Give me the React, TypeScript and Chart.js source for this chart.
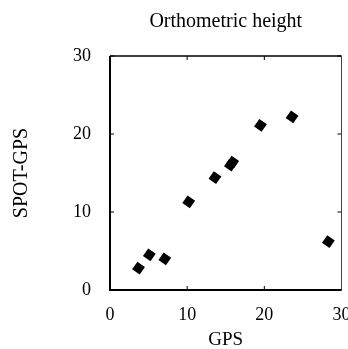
import React, { useEffect, useRef } from "react";
import { Chart, registerables } from "chart.js";

Chart.register(...registerables);

const gpsValues = [3.7, 5.1, 7.1, 10.2, 13.6, 15.6, 15.9, 19.5, 23.6, 28.3];
const spotGpsValues = [2.8, 4.5, 4.0, 11.3, 14.4, 16.0, 16.4, 21.1, 22.2, 6.2];
const tickValues = [0, 10, 20, 30];
const titleText = "Orthometric height";
const xTitle = "GPS";
const yTitle = "SPOT-GPS";

const SERIF = "'Liberation Serif', 'Times New Roman', serif";

const titlePlugin = {
  id: "centeredTitle",
  afterDraw(chart: any) {
    const { ctx, chartArea } = chart;
    ctx.save();
    ctx.fillStyle = "#000";
    ctx.font = `20px ${SERIF}`;
    ctx.textAlign = "center";
    ctx.textBaseline = "alphabetic";
    ctx.fillText(titleText, (chartArea.left + chartArea.right) / 2, 27);
    ctx.restore();
  },
};

const framePlugin = {
  id: "frame",
  afterDraw(chart: any) {
    const { ctx, chartArea } = chart;
    const { left, right, top, bottom } = chartArea;
    const xs = chart.scales.x;
    const ys = chart.scales.y;
    ctx.save();
    ctx.strokeStyle = "#000";
    ctx.lineWidth = 1;
    const tl = 4;
    tickValues.forEach((v) => {
      const px = xs.getPixelForValue(v);
      const py = ys.getPixelForValue(v);
      ctx.beginPath();
      ctx.moveTo(px, bottom);
      ctx.lineTo(px, bottom - tl);
      ctx.moveTo(px, top);
      ctx.lineTo(px, top + tl);
      ctx.moveTo(left, py);
      ctx.lineTo(left + tl, py);
      ctx.moveTo(right, py);
      ctx.lineTo(right - tl, py);
      ctx.stroke();
    });
    ctx.lineWidth = 1.5;
    ctx.beginPath();
    ctx.moveTo(left, top);
    ctx.lineTo(right, top);
    ctx.stroke();
    ctx.strokeStyle = "#444";
    ctx.lineWidth = 1;
    ctx.beginPath();
    ctx.moveTo(right, top);
    ctx.lineTo(right, bottom);
    ctx.stroke();
    ctx.strokeStyle = "#000";
    ctx.lineWidth = 2;
    ctx.beginPath();
    ctx.moveTo(left, top);
    ctx.lineTo(left, bottom);
    ctx.lineTo(right, bottom);
    ctx.stroke();
    ctx.restore();
  },
};

export default function App() {
  const ref = useRef<HTMLCanvasElement | null>(null);
  useEffect(() => {
    document.body.style.margin = "0";
    const canvas = ref.current;
    if (!canvas) return;
    const chart = new Chart(canvas, {
      type: "scatter",
      data: {
        datasets: [
          {
            data: gpsValues.map((x, i) => ({ x, y: spotGpsValues[i] })),
            pointStyle: "rectRot",
            pointRadius: 6.5,
            pointRotation: -10,
            backgroundColor: "#000",
            borderColor: "#000",
            borderWidth: 0,
          },
        ],
      },
      options: {
        animation: false,
        responsive: false,
        maintainAspectRatio: false,
        layout: { padding: { left: 0, right: 6, top: 56, bottom: 0 } },
        plugins: {
          legend: { display: false },
          tooltip: { enabled: false },
          title: { display: false },
        },
        scales: {
          x: {
            type: "linear",
            min: 0,
            max: 30,
            grid: { display: false },
            border: { display: false },
            afterBuildTicks: (s: any) => {
              s.ticks = tickValues.map((v) => ({ value: v }));
            },
            afterFit: (s: any) => {
              s.height = 59;
              s.paddingLeft = 0;
              s.paddingRight = 0;
            },
            ticks: {
              color: "#000",
              padding: 6,
              maxRotation: 0,
              font: { family: SERIF, size: 18 },
            },
            title: {
              display: true,
              text: xTitle,
              color: "#000",
              font: { family: SERIF, size: 19, lineHeight: 1 },
              padding: { top: 0, bottom: -1 },
            },
          },
          y: {
            type: "linear",
            min: 0,
            max: 30,
            grid: { display: false },
            border: { display: false },
            afterBuildTicks: (s: any) => {
              s.ticks = tickValues.map((v) => ({ value: v }));
            },
            afterFit: (s: any) => {
              s.width = 110;
              s.paddingTop = 0;
              s.paddingBottom = 0;
            },
            ticks: {
              color: "#000",
              padding: 11,
              font: { family: SERIF, size: 18 },
            },
            title: {
              display: true,
              text: yTitle,
              color: "#000",
              font: { family: SERIF, size: 20, lineHeight: 1 },
              padding: { top: 12, bottom: 0 },
            },
          },
        },
      },
      plugins: [framePlugin, titlePlugin],
    });
    return () => chart.destroy();
  }, []);
  return (
    <div style={{ width: 348, height: 349, background: "#fff" }}>
      <canvas ref={ref} width={348} height={349} style={{ display: "block" }} />
    </div>
  );
}
